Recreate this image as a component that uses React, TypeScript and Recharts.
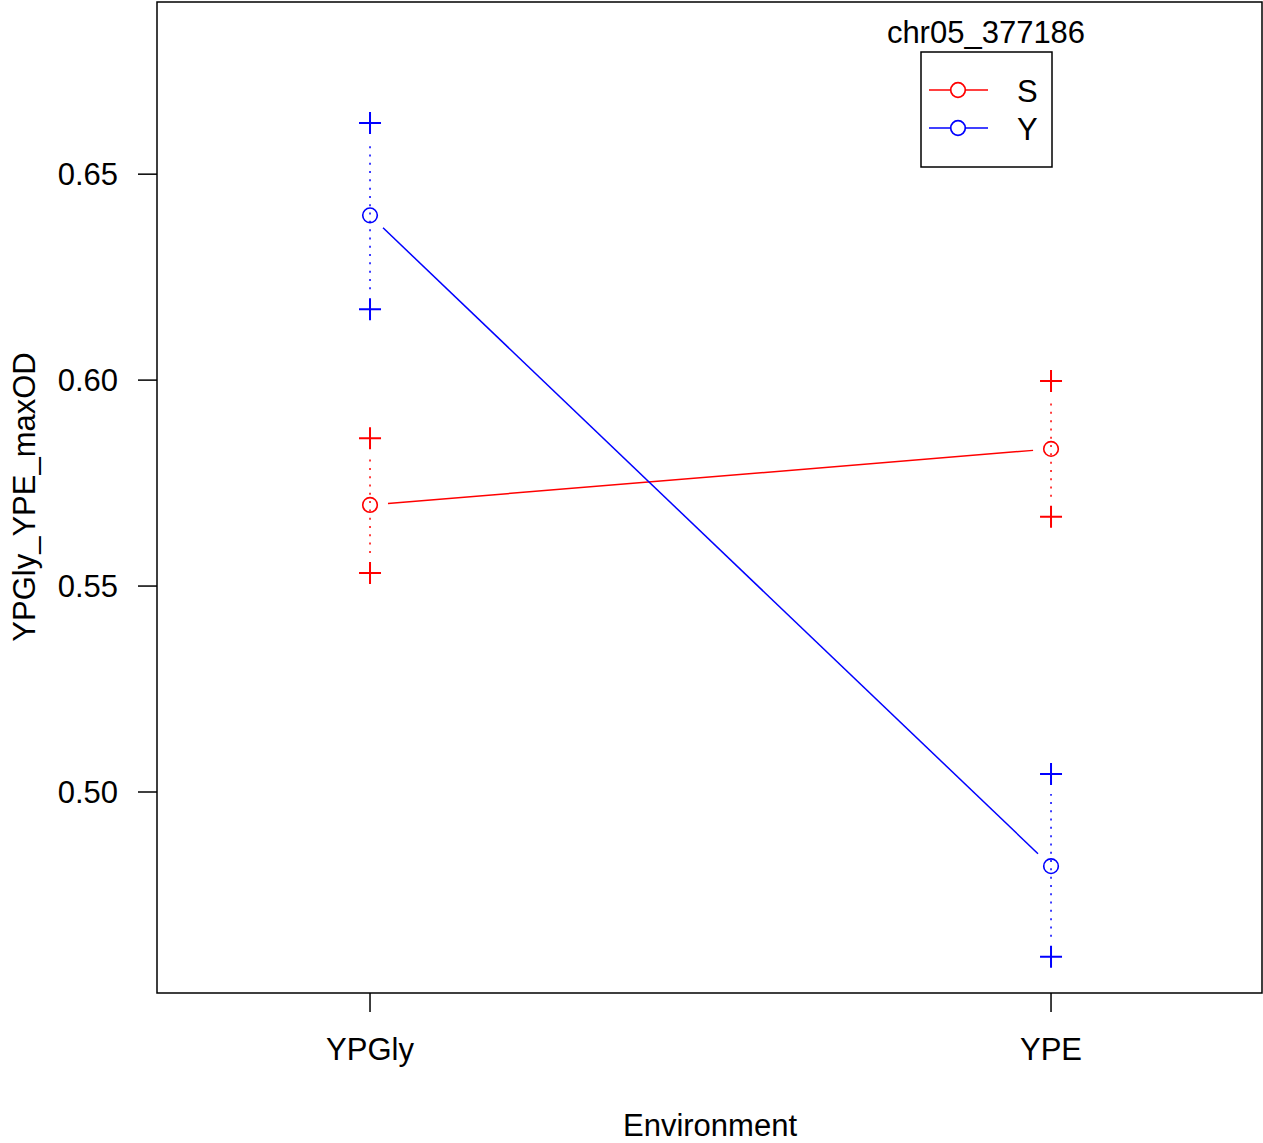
import { Legend, ReferenceArea, Scatter, ScatterChart, XAxis, YAxis } from "recharts";

const environments = ["YPGly", "YPE"];
const envPositions = [1, 2];
const genotypes = ["S", "Y"];
const colors = ["#ff0000", "#0000ff"];

// means and +/- bars per genotype, one value per environment
const sMean = [0.5697, 0.5833];
const sUpper = [0.5859, 0.5998];
const sLower = [0.5532, 0.5668];
const yMean = [0.64, 0.482];
const yUpper = [0.6624, 0.5044];
const yLower = [0.6172, 0.46];

const yTicks = [0.5, 0.55, 0.6, 0.65];
const xDomain = [0.6872, 2.3098];
const yDomain = [0.4512, 0.6918];

const FONT = "'Liberation Sans', Arial, Helvetica, sans-serif";

const meanPoints = (m: number[]) => m.map((v, i) => ({ x: envPositions[i], y: v }));
const barPoints = (lo: number[], hi: number[], i: number) => [
  { x: envPositions[i], y: lo[i] },
  { x: envPositions[i], y: hi[i] },
];

// R "type=b" style segment: stops short of each point
const gapped = (color: string, gap: number, dash?: string) => (p: any) => {
  const pts = p.points || [];
  let d = "";
  for (let i = 0; i + 1 < pts.length; i++) {
    const a = pts[i];
    const b = pts[i + 1];
    const dx = b.x - a.x;
    const dy = b.y - a.y;
    const len = Math.hypot(dx, dy);
    if (len <= 2 * gap) continue;
    const ux = dx / len;
    const uy = dy / len;
    d += `M${a.x + ux * gap},${a.y + uy * gap}L${b.x - ux * gap},${b.y - uy * gap}`;
  }
  return <path d={d} stroke={color} fill="none" strokeWidth={1.5} strokeDasharray={dash} />;
};

const plus = (color: string) => (p: any) => (
  <path
    d={`M${p.cx - 11},${p.cy}H${p.cx + 11}M${p.cx},${p.cy - 11}V${p.cy + 11}`}
    stroke={color}
    strokeWidth={2}
    fill="none"
  />
);

const ring = (color: string) => (p: any) => (
  <circle cx={p.cx} cy={p.cy} r={7.3} stroke={color} strokeWidth={1.6} fill="none" />
);

const LegendBox = () => (
  <svg width={230} height={180} style={{ display: "block" }}>
    <text x={116} y={43} textAnchor="middle" fontSize={31} fontFamily={FONT} fill="#000">
      chr05_377186
    </text>
    <rect x={51} y={52} width={131} height={115} fill="none" stroke="#000" strokeWidth={1.5} />
    {genotypes.map((g, i) => (
      <g key={g}>
        <line x1={59} x2={118} y1={90 + 38 * i} y2={90 + 38 * i} stroke={colors[i]} strokeWidth={1.6} />
        <circle cx={88} cy={90 + 38 * i} r={7.3} stroke={colors[i]} strokeWidth={1.7} fill="#fff" />
        <text x={147} y={101.5 + 38 * i} fontSize={31} fontFamily={FONT} fill="#000">
          {g}
        </text>
      </g>
    ))}
  </svg>
);

const groups = [
  { mean: sMean, lo: sLower, hi: sUpper, color: colors[0] },
  { mean: yMean, lo: yLower, hi: yUpper, color: colors[1] },
];

export default function App() {
  return (
    <div style={{ position: "absolute", left: 0, top: 0 }}>
      <ScatterChart width={1263} height={1143} margin={{ top: 2, right: 1, left: 0, bottom: 0 }}>
        <XAxis
          type="number"
          dataKey="x"
          domain={xDomain}
          ticks={envPositions}
          allowDataOverflow
          interval={0}
          height={150}
          tickSize={19}
          tickMargin={26}
          axisLine={false}
          tickLine={{ stroke: "#000", strokeWidth: 1.5 }}
          tick={{ fill: "#000", fontSize: 31, fontFamily: FONT }}
          tickFormatter={(v: number) => environments[envPositions.indexOf(v)]}
          label={() => (
            <text x={710} y={1136} textAnchor="middle" fontSize={31} fontFamily={FONT} fill="#000">
              Environment
            </text>
          )}
        />
        <YAxis
          type="number"
          dataKey="y"
          domain={yDomain}
          ticks={yTicks}
          allowDataOverflow
          interval={0}
          width={157}
          tickSize={19}
          tickMargin={20}
          axisLine={false}
          tickLine={{ stroke: "#000", strokeWidth: 1.5 }}
          tick={{ fill: "#000", fontSize: 31, fontFamily: FONT }}
          tickFormatter={(v: number) => v.toFixed(2)}
          label={() => (
            <text
              x={35}
              y={497}
              transform="rotate(-90 35 497)"
              textAnchor="middle"
              fontSize={31}
              fontFamily={FONT}
              fill="#000"
            >
              YPGly_YPE_maxOD
            </text>
          )}
        />
        <ReferenceArea
          x1={xDomain[0]}
          x2={xDomain[1]}
          y1={yDomain[0]}
          y2={yDomain[1]}
          fill="none"
          stroke="#000"
          strokeWidth={1.5}
          ifOverflow="visible"
        />
        {groups.map((g, gi) =>
          envPositions.map((_, i) => (
            <Scatter
              key={`bar-${gi}-${i}`}
              data={barPoints(g.lo, g.hi, i)}
              fill={g.color}
              shape={plus(g.color)}
              line={gapped(g.color, 20, "2 6.3")}
              isAnimationActive={false}
            />
          ))
        )}
        {groups.map((g, gi) => (
          <Scatter
            key={`mean-${gi}`}
            name={genotypes[gi]}
            data={meanPoints(g.mean)}
            fill={g.color}
            shape={ring(g.color)}
            line={gapped(g.color, 18)}
            isAnimationActive={false}
          />
        ))}
        <Legend
          layout="vertical"
          align="center"
          verticalAlign="middle"
          wrapperStyle={{ left: 870, top: 0, width: 230, height: 180 }}
          content={() => <LegendBox />}
        />
      </ScatterChart>
    </div>
  );
}
